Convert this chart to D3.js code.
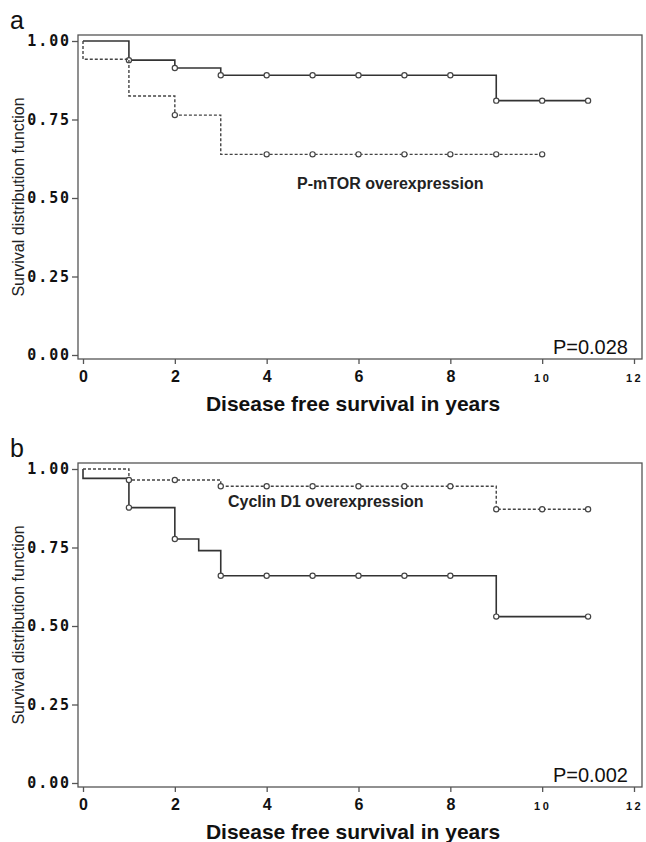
<!DOCTYPE html>
<html>
<head>
<meta charset="utf-8">
<script src="https://cdn.jsdelivr.net/npm/d3@7"></script>
<style>
  body { margin: 0; background: #fff; }
  svg { display: block; }
  .ylab text { font-family: "DejaVu Sans Mono", monospace; font-weight: bold; font-size: 15px; letter-spacing: 1.9px; fill: #111; }
  .xlab text { font-family: "Liberation Sans", Arial, sans-serif; font-weight: bold; font-size: 16px; fill: #111; }
  .tick line { stroke: #555; stroke-width: 1.3; }
</style>
</head>
<body>
<svg id="myGraph" width="646" height="842"></svg>
<script>
// x axis ticks (years) and y ticks (survival)
var xTicks = [0, 2, 4, 6, 8, 10, 12];
var yTicks = [0, 0.25, 0.5, 0.75, 1.0];

// panel a : P-mTOR
var aSolidTime = [0, 1, 2, 3, 9, 11];
var aSolidSurv = [1.0, 0.939, 0.914, 0.891, 0.81, 0.81];
var aSolidCensor = [1, 2, 3, 4, 5, 6, 7, 8, 9, 10, 11];

var aDashTime = [0, 0, 1, 2, 3, 10];
var aDashSurv = [1.0, 0.942, 0.825, 0.764, 0.639, 0.639];
var aDashCensor = [2, 4, 5, 6, 7, 8, 9, 10];

// panel b : Cyclin D1
var bSolidTime = [0, 0, 1, 2, 2.52, 3, 9, 11];
var bSolidSurv = [1.0, 0.97, 0.877, 0.777, 0.74, 0.66, 0.53, 0.53];
var bSolidCensor = [1, 2, 3, 4, 5, 6, 7, 8, 9, 11];

var bDashTime = [0, 1, 3, 9, 11];
var bDashSurv = [1.0, 0.965, 0.945, 0.872, 0.872];
var bDashCensor = [1, 2, 3, 4, 5, 6, 7, 8, 9, 10, 11];

var svg = d3.select("#myGraph");

// frame
var frameLeft = 78, frameRight = 642;

var x = d3.scaleLinear().domain([0, 12]).range([83, 634]);

function survAt(times, surv, t) {
  var v = surv[0];
  for (var i = 0; i < times.length; i++) {
    if (times[i] <= t) v = surv[i];
  }
  return v;
}

function drawPanel(offsetY, letter, curves, note, noteX, pValue) {
  var g = svg.append("g").attr("transform", "translate(0," + offsetY + ")");
  var frameTop = 35, frameBottom = 359;
  var y = d3.scaleLinear().domain([0, 1]).range([355, 41]);

  g.append("rect")
    .attr("x", frameLeft).attr("y", frameTop)
    .attr("width", frameRight - frameLeft).attr("height", frameBottom - frameTop)
    .attr("fill", "none").attr("stroke", "#555").attr("stroke-width", 1.3);

  // axis y
  var yAxis = d3.axisLeft(y).tickValues(yTicks).tickSize(6).tickPadding(1)
    .tickFormat(d3.format(".2f"));
  var gy = g.append("g").attr("class", "ylab")
    .attr("transform", "translate(" + frameLeft + ",0)")
    .call(yAxis);
  gy.select(".domain").remove();

  // axis x
  var xAxis = d3.axisBottom(x).tickValues(xTicks).tickSize(5);
  var gx = g.append("g").attr("class", "xlab")
    .attr("transform", "translate(0," + frameBottom + ")")
    .call(xAxis);
  gx.select(".domain").remove();
  gx.selectAll("text")
    .attr("y", 23).attr("dy", null)
    .style("font-size", function (d) { return d >= 10 ? "11px" : null; })
    .style("letter-spacing", function (d) { return d >= 10 ? "2.5px" : null; });

  var line = d3.line()
    .x(function (d) { return x(d[0]); })
    .y(function (d) { return y(d[1]); })
    .curve(d3.curveStepAfter);

  curves.forEach(function (c) {
    var pts = c.time.map(function (t, i) { return [t, c.surv[i]]; });
    g.append("path")
      .attr("d", line(pts))
      .attr("fill", "none")
      .attr("stroke", c.dash ? "#444" : "#333")
      .attr("stroke-width", c.dash ? 1.4 : 1.6)
      .attr("stroke-dasharray", c.dash ? "3,2" : null);

    g.selectAll(null).data(c.censor).enter()
      .append("circle")
      .attr("cx", function (d) { return x(d); })
      .attr("cy", function (d) { return y(survAt(c.time, c.surv, d)); })
      .attr("r", 2.6)
      .attr("fill", "#fff")
      .attr("stroke", "#444")
      .attr("stroke-width", 1.2);
  });

  g.append("text")
    .attr("x", noteX).attr("y", note.y)
    .style("font-family", "Liberation Sans, Arial, sans-serif")
    .style("font-weight", "bold").style("font-size", "16px").style("fill", "#222")
    .text(note.text);

  g.append("text")
    .attr("x", 628).attr("y", 354)
    .attr("text-anchor", "end")
    .style("font-family", "Liberation Sans, Arial, sans-serif")
    .style("font-size", "20px").style("fill", "#111")
    .text(pValue);

  g.append("text")
    .attr("x", 353).attr("y", 411)
    .attr("text-anchor", "middle")
    .style("font-family", "Liberation Sans, Arial, sans-serif")
    .style("font-weight", "bold").style("font-size", "21px").style("fill", "#111")
    .text("Disease free survival in years");

  g.append("text")
    .attr("transform", "translate(24,197) rotate(-90)")
    .attr("text-anchor", "middle")
    .style("font-family", "Liberation Sans, Arial, sans-serif")
    .style("font-size", "16px").style("fill", "#222")
    .text("Survival distribution function");

  g.append("text")
    .attr("x", 10).attr("y", 29)
    .style("font-family", "Liberation Sans, Arial, sans-serif")
    .style("font-size", "25px").style("fill", "#111")
    .text(letter);
}

drawPanel(0, "a", [
  { time: aSolidTime, surv: aSolidSurv, censor: aSolidCensor, dash: false },
  { time: aDashTime, surv: aDashSurv, censor: aDashCensor, dash: true }
], { text: "P-mTOR overexpression", y: 189 }, 297, "P=0.028");

drawPanel(428, "b", [
  { time: bSolidTime, surv: bSolidSurv, censor: bSolidCensor, dash: false },
  { time: bDashTime, surv: bDashSurv, censor: bDashCensor, dash: true }
], { text: "Cyclin D1 overexpression", y: 79 }, 228, "P=0.002");
</script>
</body>
</html>
